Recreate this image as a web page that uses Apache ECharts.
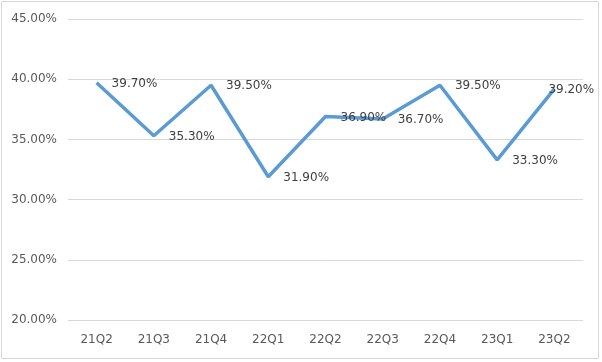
<!DOCTYPE html>
<html>
<head>
<meta charset="utf-8">
<script src="https://cdn.jsdelivr.net/npm/echarts@6/dist/echarts.min.js"></script>
<style>
html,body{margin:0;padding:0;background:#fff;}
#c{width:602px;height:362px;}
</style>
</head>
<body>
<div id="c"></div>
<script>
const categories = ['21Q2','21Q3','21Q4','22Q1','22Q2','22Q3','22Q4','23Q1','23Q2'];
const values = [39.7, 35.3, 39.5, 31.9, 36.9, 36.7, 39.5, 33.3, 39.2];
const yTicks = [20, 25, 30, 35, 40, 45];

const chart = echarts.init(document.getElementById('c'), null, {renderer: 'canvas'});
const textColor = '#595959';
const font = 'DejaVu Sans';

const seriesData = values.map((v, i) => {
  const d = {value: v};
  if (i === values.length - 1) {
    d.label = {offset: [-21, 1]};
  }
  return d;
});

chart.setOption({
  animation: false,
  backgroundColor: '#fff',
  graphic: [{
    type: 'rect',
    shape: {x: 1.5, y: 1.5, width: 597, height: 357},
    style: {fill: 'none', stroke: '#d9d9d9', lineWidth: 1},
    z: -1
  }],
  grid: {left: 68, right: 19, top: 19, bottom: 42, containLabel: false},
  xAxis: {
    type: 'category',
    data: categories,
    boundaryGap: true,
    axisLine: {show: false},
    axisTick: {show: false},
    axisLabel: {color: textColor, fontFamily: font, fontSize: 12, margin: 14}
  },
  yAxis: {
    type: 'value',
    min: yTicks[0],
    max: yTicks[yTicks.length - 1],
    interval: 5,
    axisLine: {show: false},
    axisTick: {show: false},
    splitLine: {lineStyle: {color: '#d9d9d9', width: 1}},
    axisLabel: {
      color: textColor, fontFamily: font, fontSize: 12, margin: 11,
      formatter: v => v.toFixed(2) + '%'
    }
  },
  series: [{
    type: 'line',
    data: seriesData,
    showSymbol: true,
    symbol: 'circle',
    symbolSize: 0,
    lineStyle: {color: '#5B9BD5', width: 3.5},
    itemStyle: {color: '#5B9BD5'},
    label: {
      show: true,
      position: 'right',
      distance: 15,
      offset: [0, 1],
      color: '#404040',
      fontFamily: font,
      fontSize: 12,
      formatter: p => p.value.toFixed(2) + '%'
    }
  }]
});
</script>
</body>
</html>
